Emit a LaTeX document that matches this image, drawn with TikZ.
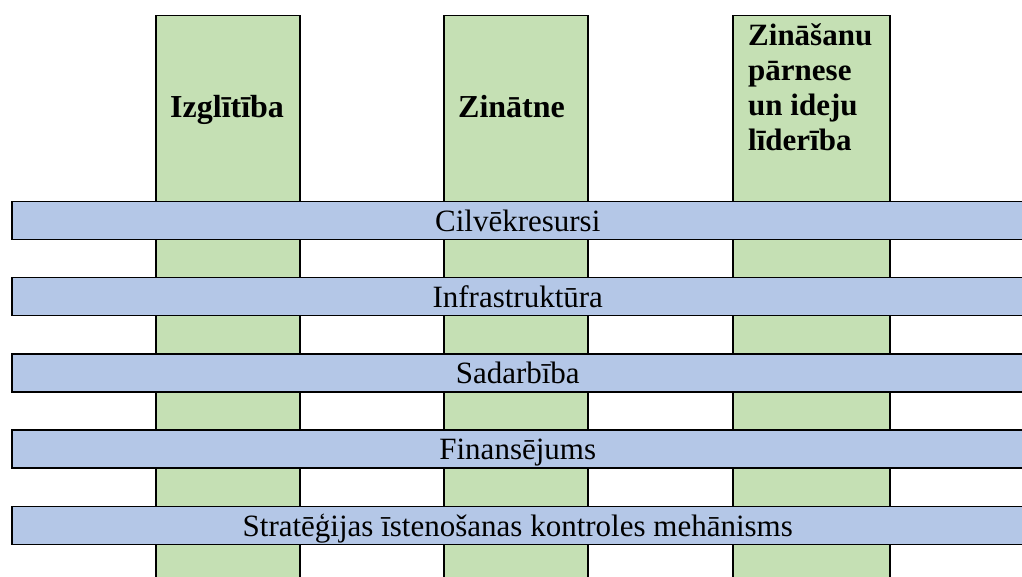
\documentclass[tikz,border=0pt]{standalone}
\usepackage{fontspec}
\setmainfont{Liberation Serif}
\definecolor{pillargreen}{HTML}{C5E0B4}
\definecolor{layerblue}{HTML}{B4C7E7}
\tikzset{
  pillar box/.style={draw,line width=1.5pt,fill=pillargreen,minimum width=144pt,minimum height=580pt,anchor=north west,inner sep=0pt},
  pillar text/.style={inner sep=0pt,align=left,font=\fontsize{32}{35.2}\selectfont\bfseries},
  layer box/.style={draw,line width=1.5pt,fill=layerblue,minimum width=1012pt,minimum height=38pt,anchor=north west,inner sep=0pt,
    font=\fontsize{31}{34}\selectfont,text height=21pt,text depth=0pt},
}
\begin{document}
\begin{tikzpicture}[x=1pt,y=1pt]
\useasboundingbox (0,0) rectangle (1022,577);
\clip (0,0) rectangle (1022,577);
\node[pillar box] (izgl) at (155,562) {};
\node[pillar box] (zin) at (443,562) {};
\node[pillar box,minimum width=157pt] (parn) at (732,562) {};
\node[pillar text,anchor=base west] (izgl-t) at (170,459) {Izglītība};
\node[pillar text,anchor=base west] (zin-t) at (458,459) {Zinātne};
\node[pillar text,anchor=north west,font=\fontsize{31}{35.2}\selectfont\bfseries] (parn-t) at (748,554) {Zināšanu\\pārnese\\un ideju\\līderība};
\foreach \y/\nm/\txt in {376/cilv/Cilvēkresursi,300/infra/Infrastruktūra,223.5/sadarb/Sadarbība,
    147.5/fin/Finansējums,71/strat/Stratēģijas īstenošanas kontroles mehānisms}
  \node[layer box] (\nm) at (11,\y) {\txt};
\end{tikzpicture}
\end{document}
